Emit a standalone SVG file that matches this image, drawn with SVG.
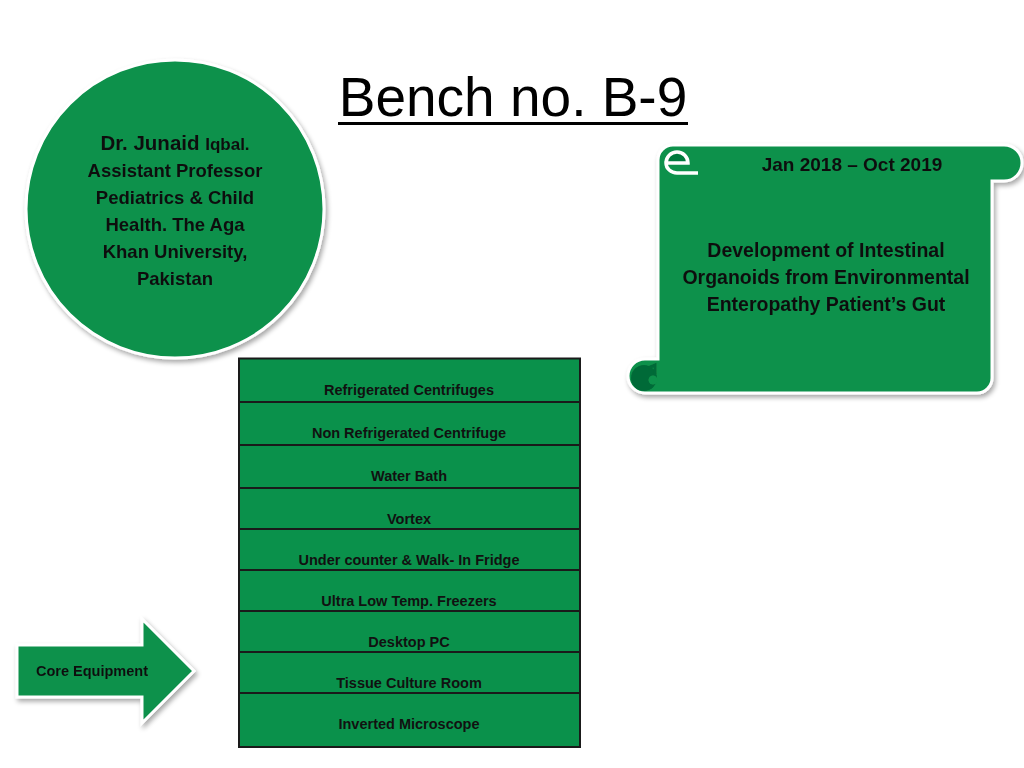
<svg xmlns="http://www.w3.org/2000/svg" width="1024" height="768" viewBox="0 0 1024 768">
  <defs>
    <filter id="shadow" x="-10%" y="-10%" width="130%" height="130%">
      <feGaussianBlur in="SourceAlpha" stdDeviation="2.5"/>
      <feOffset dx="2" dy="3" result="b"/>
      <feComponentTransfer><feFuncA type="linear" slope="0.35"/></feComponentTransfer>
      <feMerge><feMergeNode/><feMergeNode in="SourceGraphic"/></feMerge>
    </filter>
  </defs>
  <style>
    .g { fill: #0A914B; }
    .edge { stroke: #ffffff; stroke-width: 3; }
    .t { font-family: "Liberation Sans", Arial, sans-serif; font-weight: bold; fill: #111111; text-anchor: middle; }
    .cell { fill: #0A914B; stroke: #1a1a1a; stroke-width: 2; }
    .ct { font-size: 14.5px; }
  </style>
  <rect width="1024" height="768" fill="#ffffff"/>

  <g id="title">
    <text x="513" y="116" font-family="'Liberation Sans', Arial, sans-serif" font-size="55" fill="#000" text-anchor="middle">Bench no. B-9</text>
    <rect x="338" y="122" width="350" height="3" fill="#000"/>
  </g>

  <g id="person" filter="url(#shadow)">
    <circle cx="175" cy="209" r="149" class="g edge"/>
    <text class="t" font-size="18.5" x="175" y="150"><tspan font-size="20.5">Dr. Junaid </tspan><tspan font-size="17">Iqbal.</tspan></text>
    <text class="t" font-size="18.5" x="175" y="177">Assistant Professor</text>
    <text class="t" font-size="18.5" x="175" y="204">Pediatrics &amp; Child</text>
    <text class="t" font-size="18.5" x="175" y="231">Health. The Aga</text>
    <text class="t" font-size="18.5" x="175" y="258">Khan University,</text>
    <text class="t" font-size="18.5" x="175" y="285">Pakistan</text>
  </g>

  <g id="project" filter="url(#shadow)">
    <path class="g edge" d="M 697,145 L 1004,145 A 18 18 0 0 1 1004,181 L 992,181 L 992,378 A 15 15 0 0 1 977,393 L 645,393 A 17 17 0 0 1 645,359 L 658,359 L 658,160 A 15 15 0 0 1 673,145 Z"/>
    <path d="M 666,163 A 11 11 0 0 1 688,163 Z" fill="#067a3d"/>
    <path d="M 666,163 A 11 11 0 0 1 688,163 L 666,163 A 11 10 0 0 0 677,173 L 698,173" fill="none" stroke="#ffffff" stroke-width="3.5"/>
    <circle cx="644" cy="378" r="13" fill="#066b37"/>
    <circle cx="653" cy="380" r="4.5" fill="#0A914B"/>
    <path d="M 648,368 L 655,365 L 655,374" fill="none" stroke="#066b37" stroke-width="3"/>
    <text class="t" font-size="19" x="852" y="171">Jan 2018 – Oct 2019</text>
    <text class="t" font-size="19.5" x="826" y="257">Development of Intestinal</text>
    <text class="t" font-size="19.5" x="826" y="284">Organoids from Environmental</text>
    <text class="t" font-size="19.5" x="826" y="311">Enteropathy Patient’s Gut</text>
  </g>

  <g id="equipment">
    <rect class="cell" x="239" y="358.5" width="341" height="43.5"/>
    <rect class="cell" x="239" y="402" width="341" height="43"/>
    <rect class="cell" x="239" y="445" width="341" height="43"/>
    <rect class="cell" x="239" y="488" width="341" height="41"/>
    <rect class="cell" x="239" y="529" width="341" height="41"/>
    <rect class="cell" x="239" y="570" width="341" height="41"/>
    <rect class="cell" x="239" y="611" width="341" height="41"/>
    <rect class="cell" x="239" y="652" width="341" height="41"/>
    <rect class="cell" x="239" y="693" width="341" height="54"/>
    <text class="t ct" x="409" y="394.5">Refrigerated Centrifuges</text>
    <text class="t ct" x="409" y="438">Non Refrigerated Centrifuge</text>
    <text class="t ct" x="409" y="481">Water Bath</text>
    <text class="t ct" x="409" y="524">Vortex</text>
    <text class="t ct" x="409" y="565">Under counter &amp; Walk- In Fridge</text>
    <text class="t ct" x="409" y="606">Ultra Low Temp. Freezers</text>
    <text class="t ct" x="409" y="647">Desktop PC</text>
    <text class="t ct" x="409" y="688">Tissue Culture Room</text>
    <text class="t ct" x="409" y="729">Inverted Microscope</text>
  </g>

  <g id="core-equipment" filter="url(#shadow)">
    <path class="g edge" d="M 17,645 L 142,645 L 142,619 L 194,671 L 142,723 L 142,697 L 17,697 Z"/>
    <text class="t" font-size="14.5" x="92" y="676">Core Equipment</text>
  </g>

  <g id="connectors"></g>
</svg>
